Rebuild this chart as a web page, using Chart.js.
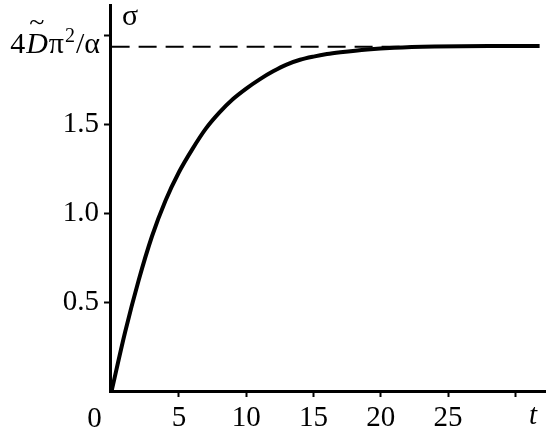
<!DOCTYPE html>
<html>
<head>
<meta charset="utf-8">
<script src="https://cdn.jsdelivr.net/npm/chart.js@4.4.1/dist/chart.umd.min.js"></script>
<style>
  html, body { margin: 0; padding: 0; background: #fff; }
  #wrap { width: 550px; height: 439px; }
</style>
</head>
<body>
<div id="wrap"><canvas id="sigmaChart"></canvas></div>
<script>
// data
let tValues = [0, 1, 2, 3, 4, 5, 6, 7, 8, 9, 10, 11, 12, 13, 14, 15, 16, 17, 19, 21, 24, 28, 31.8];
let sigmaValues = [0, 0.33, 0.62, 0.87, 1.07, 1.23, 1.36, 1.475, 1.565, 1.64, 1.7, 1.752, 1.797, 1.835, 1.862, 1.88, 1.894, 1.904, 1.92, 1.93, 1.937, 1.94, 1.94];
let limitValue = 1.935;
let xTicks = [5, 10, 15, 20, 25, 30];
let xTickLabels = ['5', '10', '15', '20', '25', ''];
let yTicks = [0.5, 1, 1.5, limitValue, 2];
let yTickLabels = ['0.5', '1.0', '1.5', '', ''];

let serif = '"Liberation Serif", "DejaVu Serif", serif';
let ink = '#000';

let curve = tValues.map((t, i) => ({ x: t, y: sigmaValues[i] }));
let limitLine = [{ x: 0, y: limitValue }, { x: 31.8, y: limitValue }];

// extra text: corner 0, axis names, limit label
let labelsPlugin = {
  id: 'labels',
  afterDraw(chart) {
    let ctx = chart.ctx;
    let x = chart.scales.x, y = chart.scales.y;
    ctx.save();
    ctx.fillStyle = ink;
    ctx.textBaseline = 'middle';
    ctx.textAlign = 'center';

    ctx.font = '29px ' + serif;
    ctx.fillText('0', x.getPixelForValue(0) - 17, 419);

    ctx.font = 'italic 29px ' + serif;
    ctx.fillText('t', 533, 416);

    ctx.font = '30px ' + serif;
    ctx.fillText('σ', 130, 17);

    // 4 D~ pi^2 / alpha
    let yy = y.getPixelForValue(limitValue) - 2;
    let parts = [
      { s: '4', f: '30px ' + serif, dy: 0 },
      { s: 'D', f: 'italic 30px ' + serif, dy: 0, tilde: true },
      { s: 'π', f: '30px ' + serif, dy: 0 },
      { s: '2', f: '20px ' + serif, dy: -8 },
      { s: '/α', f: '30px ' + serif, dy: 0 }
    ];
    let total = 0;
    parts.forEach(p => { ctx.font = p.f; p.w = ctx.measureText(p.s).width; total += p.w + 1; });
    let px = 101 - total;
    ctx.textAlign = 'left';
    parts.forEach(p => {
      ctx.font = p.f;
      ctx.fillText(p.s, px, yy + p.dy);
      if (p.tilde) {
        ctx.font = '28px ' + serif;
        ctx.fillText('~', px + 3, yy - 21);
      }
      px += p.w + 1;
    });
    ctx.restore();
  }
};

new Chart(document.getElementById('sigmaChart'), {
  type: 'scatter',
  data: {
    datasets: [
      {
        data: curve,
        showLine: true,
        borderColor: ink,
        borderWidth: 4,
        pointRadius: 0,
        cubicInterpolationMode: 'monotone'
      },
      {
        data: limitLine,
        showLine: true,
        borderColor: ink,
        borderWidth: 2,
        borderDash: [18, 9],
        pointRadius: 0
      }
    ]
  },
  options: {
    responsive: true,
    maintainAspectRatio: false,
    animation: false,
    layout: { padding: { top: 5, right: 5, left: 0, bottom: 0 } },
    plugins: { legend: { display: false }, tooltip: { enabled: false } },
    scales: {
      x: {
        type: 'linear',
        min: -0.12,
        max: 32.2,
        afterBuildTicks: s => { s.ticks = xTicks.map(v => ({ value: v })); },
        afterFit: s => { s.height = 48; s.paddingLeft = 0; s.paddingRight = 0; },
        ticks: {
          color: ink,
          padding: 4,
          maxRotation: 0,
          font: { family: serif, size: 29 },
          callback: (v, i) => xTickLabels[i]
        },
        grid: { drawOnChartArea: false, drawTicks: true, tickLength: 6, tickWidth: 2, tickColor: ink },
        border: { color: ink, width: 3 }
      },
      y: {
        min: 0,
        max: 2.17,
        afterBuildTicks: s => { s.ticks = yTicks.map(v => ({ value: v })); },
        afterFit: s => { s.width = 110; s.paddingTop = 0; s.paddingBottom = 0; },
        ticks: {
          color: ink,
          padding: 5,
          font: { family: serif, size: 29 },
          callback: (v, i) => yTickLabels[i]
        },
        grid: {
          drawOnChartArea: false,
          drawTicks: true,
          tickLength: 6,
          tickWidth: 2,
          tickColor: c => (c.tick && c.tick.value === limitValue ? 'rgba(0,0,0,0)' : ink)
        },
        border: { color: ink, width: 3 }
      }
    }
  },
  plugins: [labelsPlugin]
});
</script>
</body>
</html>
